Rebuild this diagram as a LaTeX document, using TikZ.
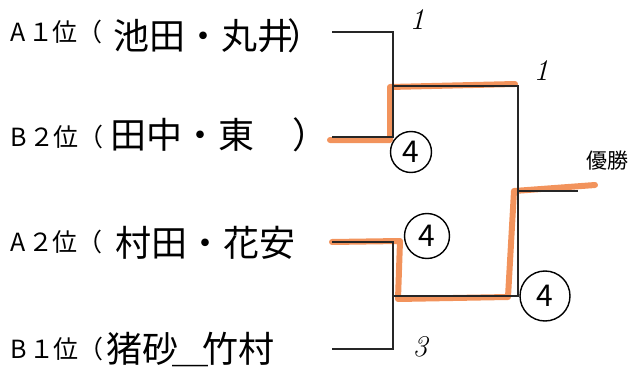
\documentclass[tikz,border=0pt]{standalone}
\usepackage{fontspec}
\newfontfamily\jp{Noto Sans CJK JP}
\definecolor{hlc}{RGB}{240,128,64}
\begin{document}
\begin{tikzpicture}[x=1pt,y=-1pt,
  br/.style={line width=1.4pt, black!85},
  hl/.style={line width=6pt, hlc, opacity=0.85, line cap=round, line join=round},
  lab/.style={font=\jp\fontsize{25}{25}\selectfont, anchor=west, inner sep=0pt},
  hand/.style={font=\jp\fontsize{36}{36}\selectfont, anchor=west, inner sep=0pt},
  sc/.style={circle, draw, line width=1.4pt, inner sep=0pt, font=\jp\fontsize{30}{30}\selectfont},
  num/.style={font=\fontsize{30}{30}\selectfont\itshape, inner sep=0pt}]
\useasboundingbox (0,0) rectangle (633,372);
% labels
\node[lab] (la1) at (10,32) {A\hspace{3pt}１\hspace{-1pt}位\hspace{0pt}（};
\node[lab] (lb2) at (10,137) {B\hspace{3pt}２\hspace{-1pt}位\hspace{0pt}（};
\node[lab] (la2) at (10,242) {A\hspace{3pt}２\hspace{-1pt}位\hspace{0pt}（};
\node[lab] (lb1) at (10,349) {B\hspace{3pt}１\hspace{-1pt}位\hspace{0pt}（};
\node[hand] (na1) at (113,36) {池田・丸井\hspace{-6pt}）};
\node[hand] (nb2) at (110,135) {田中・東\hspace{38pt}）};
\node[hand] (na2) at (115,243) {村田・花安};
\node[hand] (nb1) at (106,350) {猪砂\hspace{-6pt}＿\hspace{-6pt}竹村};
% coordinates
\coordinate (a1) at (332,32);  \coordinate (a1e) at (393,32);
\coordinate (b2) at (332,137); \coordinate (b2e) at (393,137);
\coordinate (a2) at (332,242); \coordinate (a2e) at (393,242);
\coordinate (b1) at (332,349); \coordinate (b1e) at (393,349);
\coordinate (m1) at (393,86);  \coordinate (m1e) at (518,86);
\coordinate (m2) at (393,296); \coordinate (m2e) at (518,296);
\coordinate (f) at (518,191);  \coordinate (fe) at (578,191);
% highlights
\coordinate (h1) at (330,140); \coordinate (h2) at (390,140); \coordinate (h3) at (390,87); \coordinate (h4) at (515,84);
\draw[hl] (h1) -- (h2) -- (h3) -- (h4);
\coordinate (g1) at (332,242); \coordinate (g2) at (400,241); \coordinate (g3) at (398,299);
\coordinate (g4) at (508,297); \coordinate (g5) at (514,191); \coordinate (g6) at (595,185);
\draw[hl] (g1) -- (g2) -- (g3) -- (g4) -- (g5) -- (g6);
% bracket
\draw[br] (a1) -- (a1e) -- (b2e) -- (b2);
\draw[br] (a2) -- (a2e) -- (b1e) -- (b1);
\draw[br] (m1) -- (m1e) -- (m2e) -- (m2);
\draw[br] (f) -- (fe);
% scores
\node[num] (s1) at (417,20) {1};
\node[sc, minimum size=41pt] (s2) at (411,152) {4};
\node[num] (s3) at (541,71) {1};
\node[sc, minimum size=45pt] (s4) at (427,236) {4};
\node[sc, minimum size=50pt] (s5) at (545,296) {4};
\node[num] (s6) at (420,347) {3};
\node[font=\jp\fontsize{21}{21}\selectfont, anchor=west, inner sep=0pt] (win) at (586,161) {優勝};
\end{tikzpicture}
\end{document}
